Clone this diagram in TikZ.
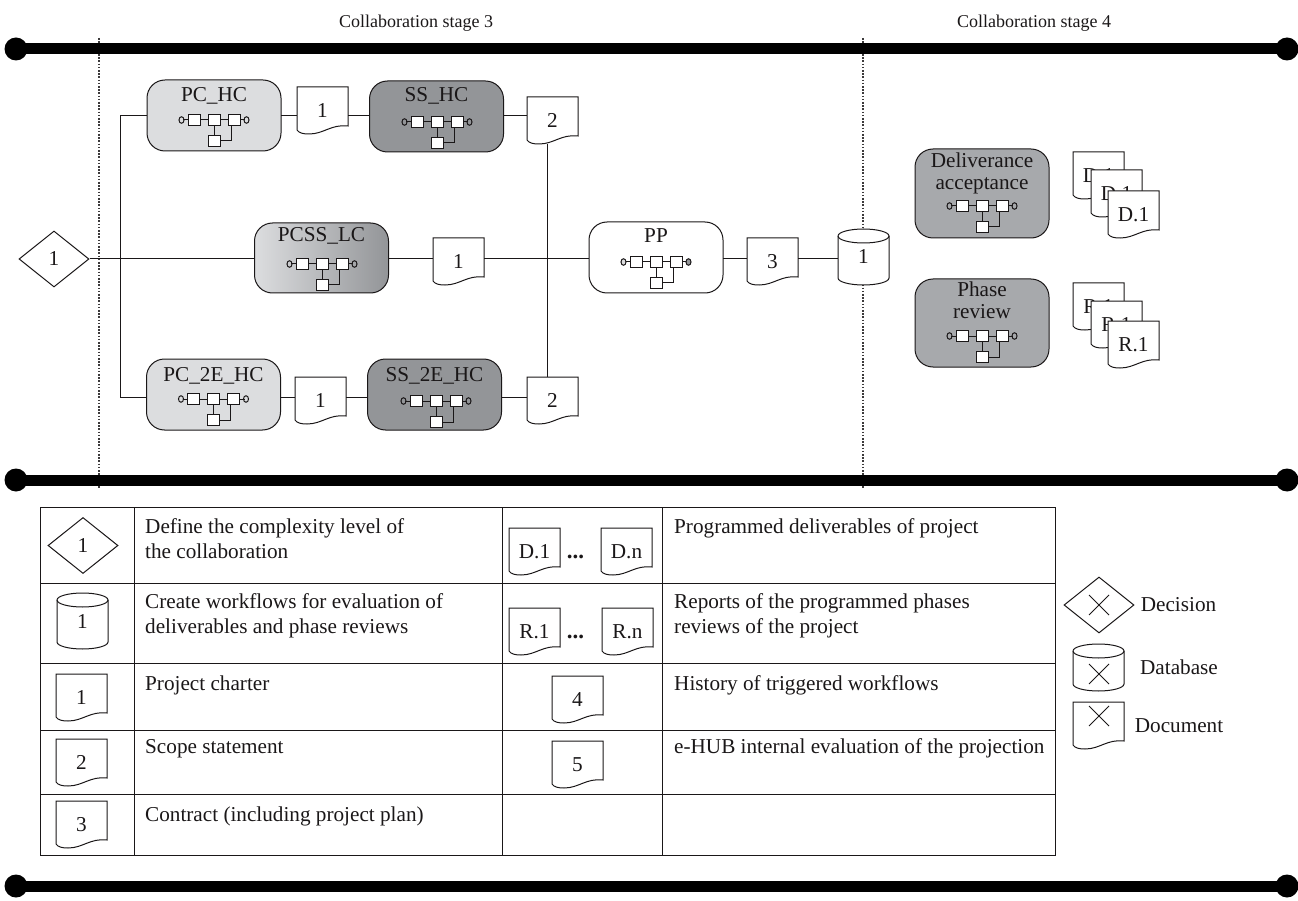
\documentclass[tikz,border=0pt]{standalone}
\usepackage{fontspec}
\setmainfont{Liberation Serif}
\usetikzlibrary{shapes.geometric}
\definecolor{ink}{HTML}{1A1718}
\definecolor{proclight}{HTML}{DCDDDF}
\definecolor{procmid}{HTML}{A7A9AC}
\definecolor{procdark}{HTML}{939598}
\tikzset{
  base/.style={draw=ink,line width=1pt},
  wire/.style={draw=ink,line width=1pt},
  bar/.style={draw=black,line width=11pt},
  barend/.style={fill=black,draw=none},
  guide/.style={draw=ink!85,line width=1.2pt,dash pattern=on 1.6pt off 1.6pt},
  bigtxt/.style={font=\fontsize{21.2}{25}\selectfont,text=ink,inner sep=0pt},
  headtxt/.style={font=\fontsize{18}{22}\selectfont,text=ink,inner sep=0pt,anchor=base},
  celltxt/.style={font=\fontsize{21.2}{25}\selectfont,text=ink,inner sep=0pt,anchor=base west},
  proclabel/.style={font=\fontsize{21.2}{25}\selectfont,text=ink,inner sep=0pt,anchor=base},
  procbox/.style={base,rounded corners=18pt,minimum width=134pt,inner sep=0pt,outer sep=0pt},
  docbox/.style={bigtxt,minimum width=51pt,minimum height=47pt,outer sep=0pt},
  dbbox/.style={bigtxt,minimum width=51pt,minimum height=56pt,outer sep=0pt},
  gate/.style={diamond,base,fill=white,aspect=1.25,inner sep=0pt,minimum width=70pt,minimum height=56pt,font=\fontsize{21.2}{25}\selectfont,text=ink},
  tablerule/.style={draw=ink,line width=1pt},
}
% document symbol: name, left, top, text
\newcommand{\docsym}[4]{%
  \begin{scope}[shift={(#2,#3)}]
    \path[base,fill=white] (0,0) -- (51,0) -- (51,39) .. controls (34,37) and (27,47) .. (12,47)
      .. controls (6,47) and (2,46) .. (0,43) -- cycle;
    \node[docbox] (#1) at (25.5,23.5) {#4};
  \end{scope}}
% database symbol: name, left, top, height, text
\newcommand{\dbsym}[5]{%
  \begin{scope}[shift={(#2,#3)}]
    \path[base,fill=white] (0,7) arc[x radius=25.5,y radius=7,start angle=180,end angle=360]
      -- (51,#4-7) arc[x radius=25.5,y radius=7,start angle=0,end angle=180] -- cycle;
    \draw[base] (0,7) arc[x radius=25.5,y radius=7,start angle=180,end angle=0];
    \node[dbbox,minimum height=#4pt] (#1) at (25.5,#4/2) {#5};
  \end{scope}}
% mini workflow: centre x, row y, left circle fill, right circle fill
\newcommand{\miniflow}[4]{%
  \begin{scope}[shift={(#1,#2)},line width=1pt]
    \draw[draw=ink] (-31,0) -- (31,0);
    \draw[draw=ink] (0,0) -- (0,21);
    \draw[draw=ink] (17,0) -- (17,21) -- (0,21);
    \draw[draw=ink,fill=#3] (-32.5,0) ellipse[x radius=2.5,y radius=3.3];
    \draw[draw=ink,fill=#4] (32.5,0) ellipse[x radius=2.5,y radius=3.3];
    \foreach \q in {-20,0,20} \draw[draw=ink,fill=white] (\q-6,-5.5) rectangle (\q+6,5.5);
    \draw[draw=ink,fill=white] (-6,15.5) rectangle (6,26.5);
  \end{scope}}
\newcommand{\crossmark}[2]{%
  \draw[base] (#1-10,#2-10) -- (#1+10,#2+10) (#1-10,#2+10) -- (#1+10,#2-10);}
\begin{document}
\begin{tikzpicture}[x=1pt,y=-1pt]
\useasboundingbox (0,0) rectangle (1298,901);
% stage guides
\coordinate (ga) at (99,38); \coordinate (gb) at (99,489);
\coordinate (gc) at (863,38); \coordinate (gd) at (863,489);
\draw[guide] (ga) -- (gb);
\draw[guide] (gc) -- (gd);
% bars
\foreach \n/\y in {a/49,b/480,c/886}{
  \coordinate (bar\n l) at (16,\y); \coordinate (bar\n r) at (1287,\y);
  \draw[bar] (bar\n l) -- (bar\n r);
  \fill[barend] (bar\n l) circle[radius=11.5];
  \fill[barend] (bar\n r) circle[radius=11.5];
}
\node[headtxt] (stage3) at (416,28) {Collaboration stage 3};
\node[headtxt] (stage4) at (1034,28) {Collaboration stage 4};
% row coordinates
\coordinate (rowa) at (120,115.5);
\coordinate (rowb) at (120,259);
\coordinate (rowc) at (120,397);
\coordinate (jct) at (547,259);
% processes
\node[procbox,fill=proclight,minimum height=71pt] (pchc) at (214,115.5) {};
\node[proclabel] (pchct) at (214,102) {PC\_HC};
\miniflow{214}{120}{none}{none}
\node[procbox,fill=procdark,minimum height=71pt] (sshc) at (436.5,116.5) {};
\node[proclabel] (sshct) at (436.5,102) {SS\_HC};
\miniflow{437}{122}{none}{none}
\node[procbox,left color=proclight,right color=procdark,minimum height=70pt] (pcss) at (321.5,258) {};
\node[proclabel] (pcsst) at (321.5,242) {PCSS\_LC};
\miniflow{322}{264}{none}{none}
\node[procbox,fill=white,minimum height=71pt] (pp) at (656,257.5) {};
\node[proclabel] (ppt) at (656,243) {PP};
\miniflow{656}{262}{proclight}{procdark}
\node[procbox,fill=proclight,minimum height=71pt] (pctwo) at (213.5,394.5) {};
\node[proclabel] (pctwot) at (213.5,381) {PC\_2E\_HC};
\miniflow{213.5}{399}{none}{none}
\node[procbox,fill=procdark,minimum height=71pt] (sstwo) at (434.5,394.5) {};
\node[proclabel] (sstwot) at (434.5,381) {SS\_2E\_HC};
\miniflow{436}{401}{none}{none}
% documents and data
\docsym{da}{297}{87}{1}
\docsym{db}{527}{97}{2}
\docsym{dc}{433}{238}{1}
\docsym{dd}{747}{238}{3}
\docsym{de}{295}{377}{1}
\docsym{df}{527}{377}{2}
\dbsym{store}{838}{229}{56}{1}
\node[gate] (start) at (54,259) {1};
% connectors
\draw[wire] (start.east) -- (pcss.west |- rowb);
\draw[wire] (pchc.west |- rowa) -- (rowa) -- (rowc) -- (pctwo.west |- rowc);
\draw[wire] (pchc.east |- rowa) -- (da.west |- rowa);
\draw[wire] (da.east |- rowa) -- (sshc.west |- rowa);
\draw[wire] (sshc.east |- rowa) -- (db.west |- rowa);
\draw[wire] (pcss.east |- rowb) -- (dc.west |- rowb);
\draw[wire] (dc.east |- rowb) -- (pp.west |- rowb);
\draw[wire] (pp.east |- rowb) -- (dd.west |- rowb);
\draw[wire] (dd.east |- rowb) -- (store.west |- rowb);
\draw[wire] (pctwo.east |- rowc) -- (de.west |- rowc);
\draw[wire] (de.east |- rowc) -- (sstwo.west |- rowc);
\draw[wire] (sstwo.east |- rowc) -- (df.west |- rowc);
\draw[wire] (db.south -| jct) -- (df.north -| jct);
% stage 4
\node[procbox,fill=procmid,minimum height=89pt] (deliv) at (982,193.5) {};
\node[proclabel] (delivta) at (982,168) {Deliverance};
\node[proclabel] (delivtb) at (982,190) {acceptance};
\miniflow{982}{206}{none}{none}
\node[procbox,fill=procmid,minimum height=88pt] (phase) at (982,323) {};
\node[proclabel] (phaseta) at (982,297) {Phase};
\node[proclabel] (phasetb) at (982,319) {review};
\miniflow{982}{336}{none}{none}
\docsym{dda}{1073}{152}{D.1}
\docsym{ddb}{1091}{170}{D.1}
\docsym{ddc}{1108}{191}{D.1}
\docsym{rra}{1073}{283}{R.1}
\docsym{rrb}{1091}{301}{R.1}
\docsym{rrc}{1108}{321}{R.1}
% table
\draw[tablerule] (40,507) rectangle (1055,855);
\foreach \y in {583,663,730,794} \draw[tablerule] (40,\y) -- (1055,\y);
\foreach \x in {134,502,662} \draw[tablerule] (\x,507) -- (\x,855);
\node[gate] (kgate) at (83,545.5) {1};
\dbsym{kdb}{57}{593}{56}{1}
\docsym{kda}{56}{674}{1}
\docsym{kdb2}{56}{739}{2}
\docsym{kdc}{56}{801}{3}
\node[celltxt] (ta) at (145,533) {Define the complexity level of};
\node[celltxt] (tb) at (145,558) {the collaboration};
\node[celltxt] (tc) at (145,608) {Create workflows for evaluation of};
\node[celltxt] (td) at (145,633) {deliverables and phase reviews};
\node[celltxt] (te) at (145,690) {Project charter};
\node[celltxt] (tf) at (145,753) {Scope statement};
\node[celltxt] (tg) at (145,821) {Contract (including project plan)};
\docsym{kd1}{509}{528}{D.1}
\docsym{kdn}{601}{528}{D.n}
\node[proclabel,font=\fontsize{23}{25}\selectfont\bfseries] (kdots) at (575.5,558) {...};
\docsym{kr1}{509}{608}{R.1}
\docsym{krn}{602}{608}{R.n}
\node[proclabel,font=\fontsize{23}{25}\selectfont\bfseries] (krdots) at (575.5,638) {...};
\docsym{kd4}{552}{676}{4}
\docsym{kd5}{552}{741}{5}
\node[celltxt] (tr) at (674,533) {Programmed deliverables of project};
\node[celltxt] (ts) at (674,608) {Reports of the programmed phases};
\node[celltxt] (tt) at (674,633) {reviews of the project};
\node[celltxt] (tu) at (674,690) {History of triggered workflows};
\node[celltxt] (tv) at (674,753) {e-HUB internal evaluation of the projection};
% key
\node[gate] (xgate) at (1099,605) {};
\crossmark{1099}{605}
\dbsym{xdb}{1073}{644}{47}{}
\crossmark{1099}{674}
\docsym{xdoc}{1073}{702}{}
\crossmark{1099}{716}
\node[bigtxt] (xa) at (1178.5,605) {Decision};
\node[bigtxt] (xb) at (1179,667) {Database};
\node[bigtxt] (xc) at (1179,726) {Document};
\end{tikzpicture}
\end{document}
